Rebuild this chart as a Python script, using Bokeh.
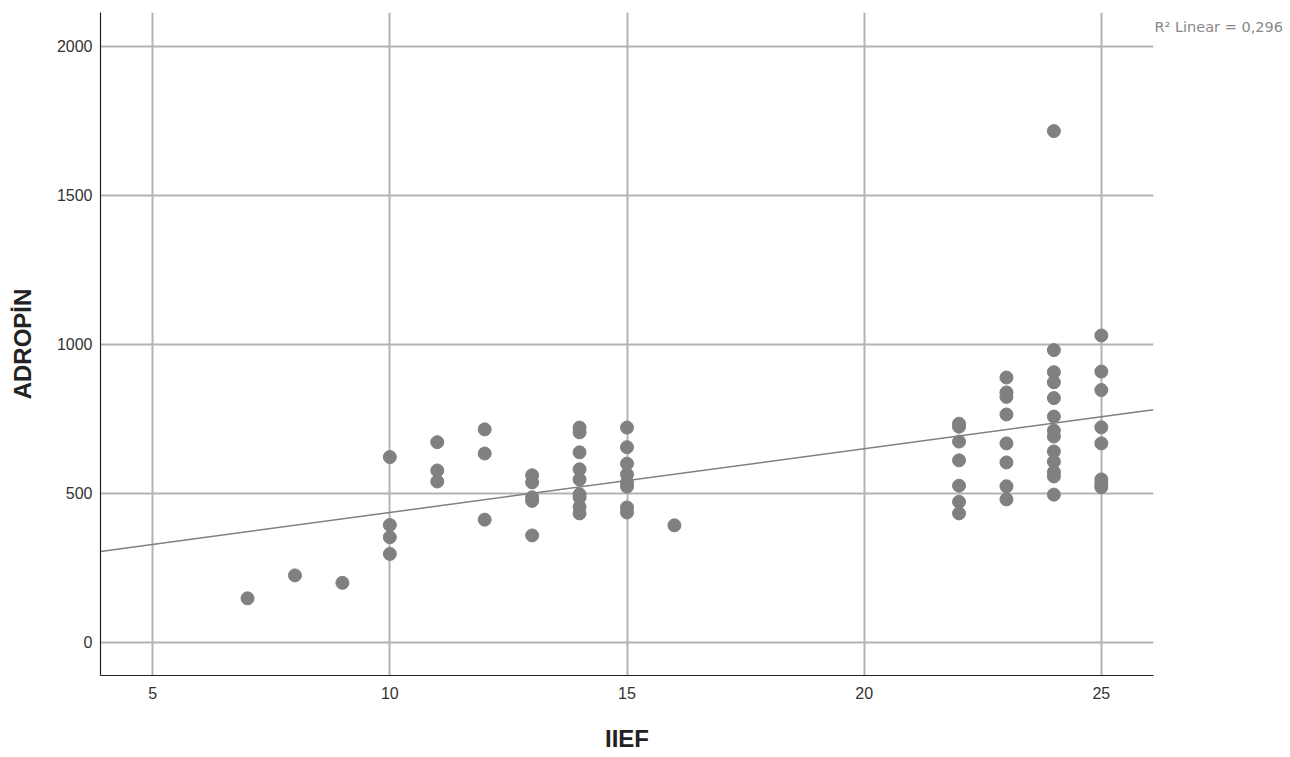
import numpy as np
from bokeh.plotting import figure
from bokeh.models import FixedTicker, Range1d, LinearAxis
from bokeh.embed import file_html
from bokeh.resources import INLINE

# IIEF score and adropin level
iief = [
    7, 8, 9,
    10, 10, 10, 10,
    11, 11, 11,
    12, 12, 12,
    13, 13, 13, 13, 13,
    14, 14, 14, 14, 14, 14, 14, 14, 14,
    15, 15, 15, 15, 15, 15, 15, 15,
    16,
    22, 22, 22, 22, 22, 22, 22,
    23, 23, 23, 23, 23, 23, 23, 23,
    24, 24, 24, 24, 24, 24, 24, 24, 24, 24, 24, 24, 24,
    25, 25, 25, 25, 25, 25, 25, 25,
]
adropin = [
    148, 225, 200,
    622, 394, 353, 297,
    672, 577, 540,
    715, 634, 412,
    561, 537, 487, 475, 359,
    721, 705, 638, 581, 547, 497, 487, 455, 433,
    721, 655, 600, 564, 537, 523, 453, 436,
    393,
    734, 724, 674, 611, 526, 472, 433,
    889, 839, 824, 765, 668, 604, 524, 480,
    1716, 981, 907, 873, 820, 758, 711, 691, 641, 607, 572, 557, 496,
    1030, 909, 847, 722, 668, 547, 533, 521,
]

x_ticks = [5, 10, 15, 20, 25]
y_ticks = [0, 500, 1000, 1500, 2000]
r2_text = "R\u00b2 Linear = 0,296"
r2_at = 2064  # height of the fit note, in adropin units

GREY = "#808080"
GRID = "#b3b3b3"
FONT = "Liberation Sans"

p = figure(width=1290, height=757, output_backend="svg", toolbar_location=None,
           x_range=Range1d(3.9, 26.1), y_range=Range1d(-111, 2114),
           min_border_left=100, min_border_right=137, min_border_top=12,
           min_border_bottom=82)
p.outline_line_color = None

p.scatter(iief, adropin, size=13, fill_color=GREY, line_color=GREY)

# least squares fit line across the whole x range
slope, intercept = np.polyfit(iief, adropin, 1)
xs = [p.x_range.start, p.x_range.end]
p.line(xs, [intercept + slope * v for v in xs], line_color=GREY, line_width=1.5)

p.xaxis.ticker = FixedTicker(ticks=x_ticks)
p.yaxis.ticker = FixedTicker(ticks=y_ticks)
for ax in (p.xaxis[0], p.yaxis[0]):
    ax.major_tick_line_color = None
    ax.minor_tick_line_color = None
    ax.axis_line_color = "#222222"
    ax.axis_line_width = 1.2
    ax.major_label_text_font = FONT
    ax.major_label_text_font_size = "16px"
    ax.major_label_text_color = "#333333"
    ax.axis_label_text_font = FONT
    ax.axis_label_text_font_style = "bold"
    ax.axis_label_text_font_size = "24px"
    ax.axis_label_text_color = "#222222"
p.xaxis.axis_label = "IIEF"
p.yaxis.axis_label = "ADROPİN"
p.xaxis.major_label_standoff = 5
p.xaxis.axis_label_standoff = 23
p.yaxis.major_label_standoff = 2
p.yaxis.axis_label_standoff = 18

p.grid.grid_line_color = GRID
p.grid.grid_line_width = 2

# the R² note sits outside the plot area, so it rides on a bare right axis
note = LinearAxis(ticker=FixedTicker(ticks=[r2_at]),
                  major_label_overrides={r2_at: r2_text},
                  axis_line_color=None, major_tick_line_color=None,
                  minor_tick_line_color=None, major_label_standoff=-5,
                  major_label_text_font="DejaVu Sans", major_label_text_font_size="14.5px",
                  major_label_text_color="#888888")
p.add_layout(note, "right")

open("out.html", "w").write(file_html(p, INLINE))
